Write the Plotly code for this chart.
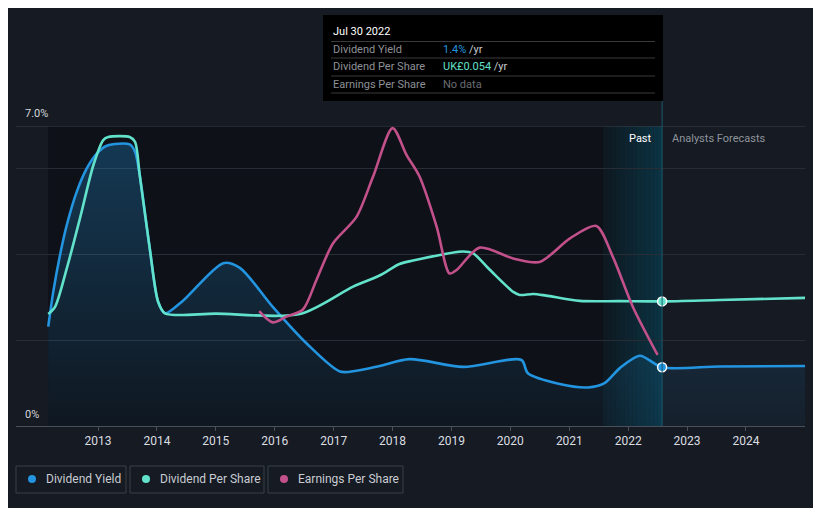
import plotly.graph_objects as go
import pandas as pd

# ---------------- data ----------------
dy_dates = ["2012-02-27", "2012-03-29", "2012-05-10", "2012-06-21", "2012-08-22", "2012-10-23",
            "2012-12-25", "2013-02-24", "2013-07-16", "2013-08-18", "2013-09-16", "2013-11-17",
            "2014-01-08", "2014-02-20", "2014-06-13", "2015-02-16",
            "2015-05-30", "2015-12-20", "2016-07-16", "2017-02-09", "2017-05-22", "2017-10-12",
            "2018-04-16", "2019-03-14", "2020-03-10", "2020-04-19", "2020-11-02", "2021-04-27",
            "2021-08-07", "2021-11-10", "2022-03-14", "2022-07-30", "2023-07-20", "2025-01-01"]
dy_values = [2.32, 3.13, 3.99, 4.69, 5.47, 6.01,
             6.36, 6.54, 6.57, 6.40, 5.86, 4.15,
             2.90, 2.63, 2.93, 3.80,
             3.69, 2.78, 1.93, 1.27, 1.29, 1.40,
             1.56, 1.38, 1.54, 1.23, 0.98, 0.90,
             1.00, 1.35, 1.64, 1.37, 1.39, 1.40]

dps_dates = ["2012-02-27", "2012-04-09", "2012-06-21", "2012-09-11", "2012-12-03", "2013-02-02",
             "2013-03-05", "2013-07-16", "2013-08-18", "2013-09-16", "2013-11-17", "2014-01-08",
             "2014-02-20", "2015-01-01",
             "2016-06-05", "2017-05-01", "2017-10-12", "2018-02-13", "2018-05-08", "2019-03-14",
             "2019-05-15", "2019-08-25", "2020-01-19", "2020-02-28", "2020-05-22", "2020-08-10",
             "2021-03-07", "2021-11-10", "2022-07-30", "2023-07-20", "2025-01-01"]
dps_values = [0.0485, 0.0516, 0.0683, 0.0901, 0.1131, 0.1239,
              0.1252, 0.1252, 0.1231, 0.1088, 0.0771, 0.0539,
              0.0488, 0.0487,
              0.0485, 0.0604, 0.0652, 0.0702, 0.0717, 0.0756,
              0.0748, 0.0678, 0.0581, 0.0568, 0.0572, 0.0565,
              0.0542, 0.0541, 0.0540, 0.0546, 0.0555]

eps_dates = ["2015-09-27", "2015-12-20", "2016-03-13", "2016-06-24", "2016-09-16", "2016-12-27",
             "2017-05-22", "2017-09-02", "2018-01-01", "2018-03-29", "2018-06-17", "2018-10-01",
             "2018-12-20", "2019-02-02", "2019-06-24", "2020-01-19", "2020-07-01", "2021-01-05",
             "2021-06-17", "2021-09-27", "2022-01-30", "2022-07-02"]
eps_values = [0.0498, 0.0449, 0.0474, 0.0505, 0.0633, 0.0791,
              0.0906, 0.1081, 0.1291, 0.1174, 0.1081, 0.0864,
              0.0661, 0.0676, 0.0773, 0.0726, 0.0711, 0.0813,
              0.0867, 0.0734, 0.0516, 0.0308]

year_ticks = [str(y) for y in range(2013, 2025)]
current_date = "2022-07-30"
band_start = "2021-07-30"
tooltip_title = "Jul 30 2022"
tooltip_dy = "1.4%"
tooltip_dps = "UK£0.054"

# ---------------- style ----------------
BG = "#151a23"
PAST_BG = "#0e1117"
BLUE = "#2394df"
TEAL = "#62e2cb"
PINK = "#c2508a"
FONT = "Roboto"

fig = go.Figure()

fig.add_trace(go.Scatter(
    x=dy_dates, y=dy_values, mode="lines", line=dict(color=BLUE, width=2.6, shape="spline", smoothing=0.8),
    fill="tozeroy",
    fillgradient=dict(type="vertical",
                      colorscale=[[0, "rgba(35,148,223,0.05)"], [1, "rgba(35,148,223,0.30)"]]),
    showlegend=False, hoverinfo="skip"))

fig.add_trace(go.Scatter(
    x=dps_dates, y=dps_values, yaxis="y2", mode="lines",
    line=dict(color=TEAL, width=2.6, shape="spline", smoothing=0.8),
    showlegend=False, hoverinfo="skip"))

fig.add_trace(go.Scatter(
    x=eps_dates, y=eps_values, yaxis="y2", mode="lines",
    line=dict(color=PINK, width=2.6, shape="spline", smoothing=0.8),
    showlegend=False, hoverinfo="skip"))

# current-date markers
i_dy = dy_dates.index(current_date)
i_dps = dps_dates.index(current_date)
fig.add_trace(go.Scatter(x=[dy_dates[i_dy]], y=[dy_values[i_dy]], mode="markers",
                         marker=dict(color=BLUE, size=9, line=dict(color="white", width=1.5)),
                         showlegend=False, hoverinfo="skip"))
fig.add_trace(go.Scatter(x=[dps_dates[i_dps]], y=[dps_values[i_dps]], yaxis="y2", mode="markers",
                         marker=dict(color=TEAL, size=9, line=dict(color="white", width=1.5)),
                         showlegend=False, hoverinfo="skip"))

# page body has an 8px default margin: the figure sits at (8, 8) in the window
OFF = 8
W, H = 821 - OFF, 508 - OFF
ML = 16 - OFF
MT = 126 - OFF
MR = W - (805 - OFF)
MB = H - (426 - OFF)
PW, PH = W - ML - MR, H - MT - MB


def px(x):
    return (x - OFF - ML) / PW


def py(y):
    return (H - MB - (y - OFF)) / PH


shapes = []
# past region
shapes.append(dict(type="rect", xref="x", yref="paper", x0=dy_dates[0], x1=band_start, y0=0, y1=1,
                   fillcolor=PAST_BG, line=dict(width=0), layer="below"))
# gradient band
n = 14
edges = pd.date_range(band_start, current_date, periods=n + 1)
c0 = (14, 24, 32)
c1 = (11, 52, 68)
for k in range(n):
    t = (k + 0.5) / n
    c = tuple(int(round(c0[j] + (c1[j] - c0[j]) * t)) for j in range(3))
    shapes.append(dict(type="rect", xref="x", yref="paper", x0=edges[k], x1=edges[k + 1], y0=0, y1=1,
                       fillcolor="rgb(%d,%d,%d)" % c, line=dict(width=0), layer="below"))
# top line
shapes.append(dict(type="line", xref="paper", yref="y", x0=0, x1=1, y0=7, y1=7,
                   line=dict(color="#3d434c", width=1), layer="below"))
# current date vertical line
shapes.append(dict(type="line", xref="x", yref="paper", x0=current_date, x1=current_date, y0=0, y1=py(101),
                   line=dict(color="#1b5a6c", width=1)))
# tooltip box
shapes.append(dict(type="rect", xref="paper", yref="paper", x0=px(323), x1=px(663), y0=py(101), y1=py(15),
                   fillcolor="#000000", line=dict(width=0)))
for yy in [41.5, 58, 76, 93]:
    shapes.append(dict(type="line", xref="paper", yref="paper", x0=px(331), x1=px(655), y0=py(yy), y1=py(yy),
                       line=dict(color="#3a3a3a", width=1)))
# legend boxes
legend_items = [("Dividend Yield", BLUE, 16, 126), ("Dividend Per Share", TEAL, 130, 264),
                ("Earnings Per Share", PINK, 268, 403)]
annotations = []
for name, col, x0, x1 in legend_items:
    shapes.append(dict(type="rect", xref="paper", yref="paper", x0=px(x0), x1=px(x1), y0=py(493), y1=py(466),
                       fillcolor="rgba(0,0,0,0)", line=dict(color="#3b4049", width=1)))
    cx = x0 + 16
    shapes.append(dict(type="circle", xref="paper", yref="paper", x0=px(cx - 4), x1=px(cx + 4),
                       y0=py(483), y1=py(475), fillcolor=col, line=dict(width=0)))
    annotations.append(dict(xref="paper", yref="paper", x=px(x0 + 28), y=py(479.5), text=name, showarrow=False,
                            xanchor="left", yanchor="middle", font=dict(family=FONT, size=12, color="#c9ccd1")))

# tooltip texts
annotations.append(dict(xref="paper", yref="paper", x=px(331), y=py(31), text=tooltip_title, showarrow=False,
                        xanchor="left", yanchor="middle", font=dict(family=FONT, size=11, color="#ffffff")))
rows = [("Dividend Yield", "<span style='color:%s'>%s</span> /yr" % (BLUE, tooltip_dy), 49.5),
        ("Dividend Per Share", "<span style='color:%s'>%s</span> /yr" % (TEAL, tooltip_dps), 66.5),
        ("Earnings Per Share", "<span style='color:#6a6d72'>No data</span>", 84)]
for lab, val, yy in rows:
    annotations.append(dict(xref="paper", yref="paper", x=px(331), y=py(yy), text=lab, showarrow=False,
                            xanchor="left", yanchor="middle", font=dict(family=FONT, size=11, color="#8e9196")))
    annotations.append(dict(xref="paper", yref="paper", x=px(441), y=py(yy), text=val, showarrow=False,
                            xanchor="left", yanchor="middle", font=dict(family=FONT, size=11, color="#c9ccd1")))

# y labels
annotations.append(dict(xref="paper", yref="paper", x=px(23), y=py(114), text="7.0%", showarrow=False,
                        xanchor="left", yanchor="middle", font=dict(family=FONT, size=11, color="#d5d7da")))
annotations.append(dict(xref="paper", yref="paper", x=px(23), y=py(414), text="0%", showarrow=False,
                        xanchor="left", yanchor="middle", font=dict(family=FONT, size=11, color="#d5d7da")))
# past / forecasts
annotations.append(dict(xref="paper", yref="paper", x=px(654), y=py(138), text="Past", showarrow=False,
                        xanchor="right", yanchor="middle", font=dict(family=FONT, size=11, color="#ffffff")))
annotations.append(dict(xref="paper", yref="paper", x=px(670), y=py(138), text="Analysts Forecasts",
                        showarrow=False, xanchor="left", yanchor="middle",
                        font=dict(family=FONT, size=11, color="#8f949b")))

fig.update_layout(
    width=W, height=H,
    margin=dict(l=ML, r=MR, t=MT, b=MB),
    paper_bgcolor=BG, plot_bgcolor=BG,
    hovermode=False,
    shapes=shapes, annotations=annotations,
    xaxis=dict(type="date", range=["2011-08-11", "2025-01-01"],
               tickvals=[y + "-01-01" for y in year_ticks], ticktext=year_ticks,
               ticks="outside", ticklen=4, tickcolor="#4a5059", showline=True, linecolor="#4a5059",
               linewidth=1, showgrid=False, zeroline=False,
               tickfont=dict(family=FONT, size=12, color="#dcdee1")),
    yaxis=dict(range=[0, 7], tickvals=[2, 4, 6], showticklabels=False, showgrid=True,
               gridcolor="#272c35", gridwidth=1, zeroline=False, showline=False, fixedrange=True),
    yaxis2=dict(range=[0, 0.13], overlaying="y", visible=False, showgrid=False),
    font=dict(family=FONT),
)

fig.write_html("out.html")
